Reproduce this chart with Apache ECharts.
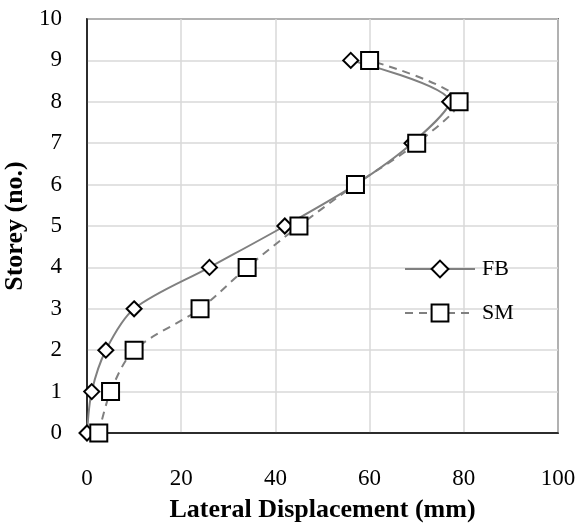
<!DOCTYPE html>
<html>
<head>
<meta charset="utf-8">
<script src="https://cdn.jsdelivr.net/npm/echarts@6/dist/echarts.min.js"></script>
<style>
html,body{margin:0;padding:0;background:#fff;}
#c{width:579px;height:528px;}
</style>
</head>
<body>
<div id="c"></div>
<script>
const storeys = [0, 1, 2, 3, 4, 5, 6, 7, 8, 9];
const fbDisp = [0, 1, 4, 10, 26, 42, 57, 69, 77, 56];
const smDisp = [2.5, 5, 10, 24, 34, 45, 57, 70, 79, 60];
const seriesNames = ['FB', 'SM'];

const chart = echarts.init(document.getElementById('c'), null, {renderer: 'canvas'});
const font = '"Liberation Serif", "Times New Roman", serif';
function pairs(xs) { return xs.map((x, i) => [x, storeys[i]]); }

chart.setOption({
  backgroundColor: '#fff',
  animation: false,
  textStyle: {fontFamily: font},
  grid: {left: 87, right: 21, top: 19, bottom: 95, show: true, borderColor: '#000', borderWidth: 1.5, containLabel: false, outerBoundsMode: 'none'},
  legend: {
    data: seriesNames,
    orient: 'vertical',
    left: 399,
    top: 253,
    itemWidth: 70,
    itemHeight: 21,
    itemGap: 22,
    textStyle: {fontFamily: font, fontSize: 22, color: '#000', padding: [0, 0, 0, 2]},
    inactiveColor: '#000'
  },
  xAxis: {
    type: 'value', min: 0, max: 100, interval: 20,
    name: 'Lateral Displacement (mm)', nameLocation: 'middle', nameGap: 64,
    nameTextStyle: {fontFamily: font, fontSize: 26, fontWeight: 'bold', color: '#000'},
    axisLine: {show: true, lineStyle: {color: '#000', width: 1.5}},
    axisTick: {show: false},
    axisLabel: {fontFamily: font, fontSize: 23, color: '#000', margin: 34},
    splitLine: {show: true, lineStyle: {color: '#d9d9d9', width: 1.5}}
  },
  yAxis: {
    type: 'value', min: 0, max: 10, interval: 1,
    name: 'Storey (no.)', nameLocation: 'middle', nameGap: 54,
    nameTextStyle: {fontFamily: font, fontSize: 26, fontWeight: 'bold', color: '#000'},
    axisLine: {show: true, lineStyle: {color: '#000', width: 1.5}},
    axisTick: {show: false},
    axisLabel: {fontFamily: font, fontSize: 23, color: '#000', margin: 25},
    splitLine: {show: true, lineStyle: {color: '#d9d9d9', width: 1.5}}
  },
  series: [
    {
      name: seriesNames[0], type: 'line', data: pairs(fbDisp), smooth: 0.3,
      symbol: 'diamond', symbolSize: 15,
      lineStyle: {color: '#808080', width: 2},
      itemStyle: {color: '#fff', borderColor: '#000', borderWidth: 2},
      z: 3
    },
    {
      name: seriesNames[1], type: 'line', data: pairs(smDisp), smooth: 0.3,
      symbol: 'rect', symbolSize: 17,
      lineStyle: {color: '#808080', width: 2, type: [8, 6]},
      itemStyle: {color: '#fff', borderColor: '#000', borderWidth: 2},
      z: 4
    }
  ]
});
</script>
</body>
</html>
